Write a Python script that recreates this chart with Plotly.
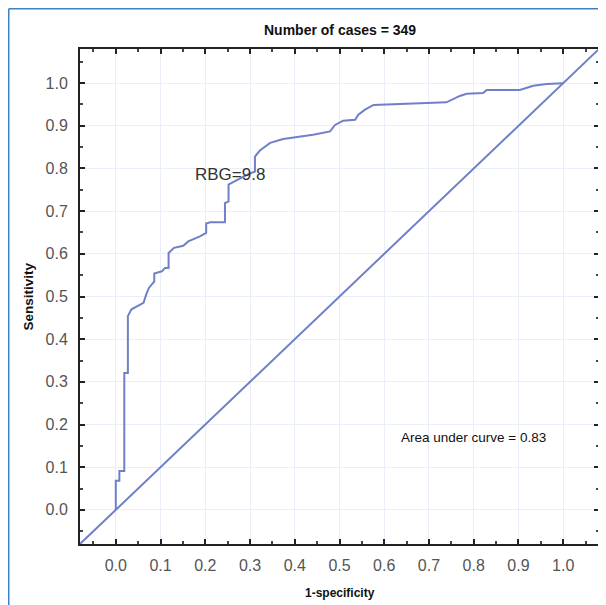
import plotly.graph_objects as go

# ROC curve
fpr = [0.0, 0.0, 0.008, 0.008, 0.019, 0.019, 0.027, 0.027, 0.035, 0.062, 0.068, 0.074, 0.080,
       0.086, 0.086, 0.103, 0.110, 0.118, 0.118, 0.130, 0.151, 0.162, 0.188, 0.202, 0.202, 0.211,
       0.244, 0.244, 0.252, 0.252, 0.259, 0.293, 0.311, 0.311, 0.322, 0.345, 0.374, 0.412, 0.441,
       0.479, 0.490, 0.508, 0.535, 0.542, 0.557, 0.576, 0.739, 0.769, 0.784, 0.821, 0.829, 0.903,
       0.933, 0.963, 1.0]
tpr = [0.0, 0.068, 0.068, 0.091, 0.091, 0.321, 0.321, 0.454, 0.47, 0.485, 0.505, 0.52, 0.528,
       0.535, 0.554, 0.559, 0.567, 0.567, 0.602, 0.614, 0.619, 0.629, 0.641, 0.649, 0.671, 0.674,
       0.674, 0.719, 0.723, 0.762, 0.766, 0.785, 0.793, 0.828, 0.842, 0.860, 0.869, 0.875, 0.879,
       0.887, 0.902, 0.912, 0.914, 0.926, 0.938, 0.949, 0.955, 0.970, 0.975, 0.977, 0.984, 0.984,
       0.994, 0.998, 1.0]
diag = [-0.08, 1.08]
tick_vals = [0.0, 0.1, 0.2, 0.3, 0.4, 0.5, 0.6, 0.7, 0.8, 0.9, 1.0]
tick_text = ["0.0", "0.1", "0.2", "0.3", "0.4", "0.5", "0.6", "0.7", "0.8", "0.9", "1.0"]

line_color = "#7080c8"
font_family = "Liberation Sans, Arial, sans-serif"

fig = go.Figure()
fig.add_trace(go.Scatter(x=diag, y=diag, mode="lines",
                         line=dict(color=line_color, width=2), hoverinfo="skip"))
fig.add_trace(go.Scatter(x=fpr, y=tpr, mode="lines",
                         line=dict(color=line_color, width=2)))

axis_common = dict(
    range=[-0.08, 1.08], tickvals=tick_vals, ticktext=tick_text,
    ticks="inside", ticklen=5, tickwidth=1.5, tickcolor="#222",
    minor=dict(ticks="inside", dtick=0.05, tick0=0, ticklen=3, tickcolor="#444", showgrid=False),
    showline=True, linecolor="#222", linewidth=2, mirror="allticks",
    showgrid=True, gridcolor="#e9eef8", gridwidth=1, zeroline=False,
    tickfont=dict(family=font_family, size=16, color="#555"),
    automargin=False,
)

fig.update_layout(
    width=598, height=597,
    margin=dict(l=72, r=7, t=41, b=61),
    paper_bgcolor="white", plot_bgcolor="white",
    showlegend=False,
    font=dict(family=font_family, color="#111"),
    xaxis=dict(**axis_common, ticklabelstandoff=6),
    yaxis=dict(**axis_common, ticklabelstandoff=7),
    annotations=[
        dict(x=0.5, y=1.038, xref="paper", yref="paper", text="<b>Number of cases = 349</b>",
             showarrow=False, xanchor="center", yanchor="middle",
             font=dict(size=14, color="#111", family=font_family)),
        dict(x=0.5, y=-0.099, xref="paper", yref="paper", text="<b>1-specificity</b>",
             showarrow=False, xanchor="center", yanchor="middle",
             font=dict(size=12, color="#111", family=font_family)),
        dict(x=-0.1, y=0.5, xref="paper", yref="paper", text="<b>Sensitivity</b>", textangle=-90,
             showarrow=False, xanchor="center", yanchor="middle",
             font=dict(size=13.5, color="#111", family=font_family)),
        dict(x=0.255, y=0.785, xref="x", yref="y", text="RBG=9.8", showarrow=False,
             font=dict(size=17, color="#333", family=font_family)),
        dict(x=0.80, y=0.170, xref="x", yref="y", text="Area under curve = 0.83", showarrow=False,
             font=dict(size=13.5, color="#111", family=font_family)),
    ],
    shapes=[
        dict(type="line", xref="paper", yref="paper", x0=-0.1373, x1=-0.1373, y0=-0.123, y1=1.0813,
             line=dict(color="#3f7fc8", width=1.5)),
        dict(type="line", xref="paper", yref="paper", x0=-0.1373, x1=1.02, y0=1.0813, y1=1.0813,
             line=dict(color="#3f7fc8", width=1.5)),
    ],
)

fig.write_html("out.html")
